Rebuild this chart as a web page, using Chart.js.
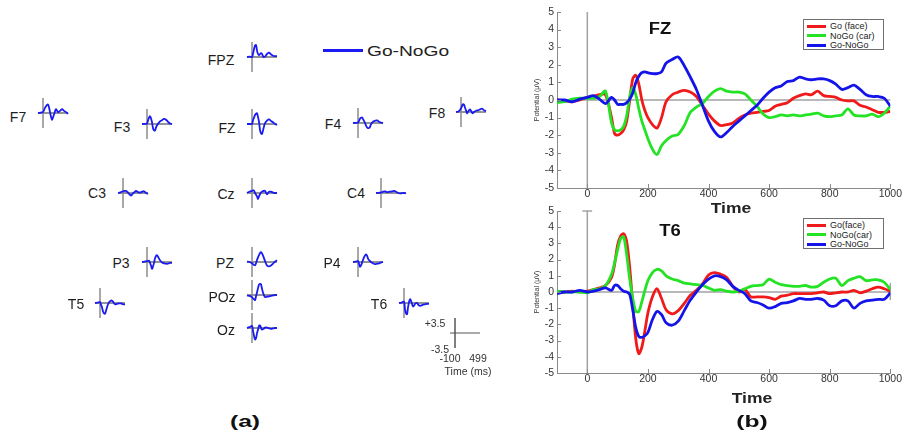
<!DOCTYPE html>
<html>
<head>
<meta charset="utf-8">
<script src="https://cdn.jsdelivr.net/npm/chart.js@4.4.1/dist/chart.umd.min.js"></script>
<style>
html,body{margin:0;padding:0;background:#fff;}
#fig{position:relative;width:907px;height:431px;overflow:hidden;font-family:"Liberation Sans",Arial,sans-serif;color:#1e1e1e;}
#fig canvas{position:absolute;}
.t{position:absolute;white-space:nowrap;line-height:1;transform:translate(-50%,-50%);}
.lg{position:absolute;box-sizing:border-box;border:1px solid #707070;background:#fff;}
.lg .sw{position:absolute;left:3px;width:19px;height:3px;margin-top:-1.5px;}
.lg .tx{position:absolute;left:26px;font-size:9px;line-height:1;transform:translateY(-50%);white-space:nowrap;color:#222;}
</style>
</head>
<body>
<div id="fig"></div>
<script>
// ---------- (a) Go-NoGo difference waves per electrode, -100..499 ms, µV ----------
const miniTimes = [-100, -50, 0, 20, 40, 60, 80, 100, 120, 140, 160, 180, 200, 230, 260, 300, 340, 380, 420, 460, 499];
const fpzWave = [0, 0.1, 0, 0.8, 1.8, 2.7, 2.8, 1.5, 0.7, 0.4, 0.7, 0.9, 0.7, 0.0, 0.1, 0.7, 1.0, 0.6, 0.3, 0.2, 0.2];
const f7Wave  = [0, 0.1, 0.2, 0.7, 1.2, 1.6, 1.9, 2.0, 1.3, 0.2, -0.9, -1.6, -1.0, 0.0, 0.9, 0.2, 0.5, 0.9, 0.5, 0.2, -0.2];
const f3Wave  = [0, 0.05, 0.1, 0.8, 1.5, 1.8, 1.3, 0.4, -1.0, -1.5, -1.5, -0.8, -0.3, 0.2, 0.6, 0.9, 1.2, 1.0, 0.5, 0.1, 0.0];
const fzWave  = [0, 0, 0, 0.9, 1.5, 2.1, 2.4, 2.5, 1.6, 0.5, -1.4, -2.2, -2.3, -1.0, 0.2, 0.8, 1.1, 0.7, 0.4, 0.0, -0.2];
const f4Wave  = [0, 0.05, 0.1, 0.5, 1.0, 1.2, 1.3, 0.9, 0.5, 0.0, -0.6, -1.0, -1.2, -1.1, -0.3, 0.3, 0.5, 0.6, 0.3, 0.1, 0.0];
const f8Wave  = [0, 0.1, 0.8, 1.4, 1.8, 1.7, 1.0, 0.4, -0.3, 0.1, 0.4, 0.6, 0.3, -0.3, 0.0, 0.3, 0.4, 0.6, 0.8, 0.4, 0.2];
const c3Wave  = [0, 0.15, 0.4, 0.45, 0.5, 0.5, 0.3, 0.1, -0.2, -0.4, -0.6, -0.4, -0.1, 0.2, 0.5, 0.2, 0.1, 0.3, 0.4, 0.0, -0.2];
const czWave  = [0, 0.3, 0.5, 0.6, 0.6, 0.0, -0.4, -0.8, -1.4, -0.8, -0.3, 0.1, 0.3, 0.5, 0.5, -0.3, 0.3, 0.3, 0.1, 0.0, 0.0];
const c4Wave  = [0, 0.05, 0.1, 0.2, 0.3, 0.35, 0.4, 0.3, 0.2, 0.2, 0.3, 0.3, 0.3, 0.4, 0.5, 0.3, 0.0, -0.1, -0.05, 0.0, -0.1];
const p3Wave  = [0, 0.1, 0.2, 0.25, 0.3, -0.2, -0.8, -1.6, -1.0, -0.2, 0.9, 1.4, 1.6, 1.0, 0.4, -0.1, -0.3, -0.4, -0.4, -0.2, -0.2];
const pzWave  = [0.1, 0.0, -0.3, -0.5, -0.7, -0.8, -0.3, 0.5, 1.1, 1.6, 2.1, 2.3, 2.0, 1.2, 0.2, -0.8, -1.0, -0.8, -0.4, 0.1, 0.4];
const pozWave = [-0.1, -0.2, -0.5, -0.8, -1.0, -1.2, -0.3, 0.6, 1.6, 2.4, 2.6, 2.5, 1.4, 0.2, -0.5, -0.4, -0.3, -0.2, -0.1, 0.0, 0.0];
const ozWave  = [0, 0.2, 0.5, -0.6, -1.8, -2.7, -2.4, -1.2, -0.4, 0.5, 0.6, 0.0, -0.4, -0.2, 0.1, 0.1, -0.1, -0.2, -0.1, 0.0, 0.0];
const p4Wave  = [0, 0.1, 0.2, -0.4, -1.1, -0.8, -0.2, 0.5, 1.1, 1.5, 1.8, 1.5, 0.8, 0.3, 0.0, -0.3, -0.5, -0.4, -0.3, -0.1, 0.0];
const t5Wave  = [0, 0.1, 0.2, -0.4, -1.0, -2.0, -2.4, -2.5, -1.8, -1.0, -0.3, 0.2, 0.4, 0.6, 0.3, -0.3, -0.2, -0.1, -0.1, -0.3, -0.3];
const t6Wave  = [0, 0.1, 0.3, -1.5, -2.4, -2.6, -1.0, 0.2, 0.9, 0.5, -0.2, -0.8, -0.6, -0.1, 0.0, -0.6, -0.6, -0.4, -0.3, -0.2, -0.2];

const electrodeNames = ['FPZ', 'F7', 'F3', 'FZ', 'F4', 'F8', 'C3', 'Cz', 'C4', 'P3', 'PZ', 'POz', 'Oz', 'P4', 'T5', 'T6'];
const electrodeWaves = [fpzWave, f7Wave, f3Wave, fzWave, f4Wave, f8Wave, c3Wave, czWave, c4Wave, p3Wave, pzWave, pozWave, ozWave, p4Wave, t5Wave, t6Wave];

// ---------- (b) grand-average ERPs at FZ and T6, -100..1000 ms, µV ----------
const erpTimes = [-100, -75, -50, -25,
  0, 20, 40, 60, 80,
  90, 100, 110, 120, 130, 140, 150, 160, 170, 180, 190, 200,
  215, 230, 245, 260,
  280, 300, 320, 340, 360, 380, 400, 420, 440, 460, 480, 500, 520, 540, 560, 580, 600, 620, 640, 660,
  680, 700, 720, 740, 760, 780, 800, 820, 840, 860, 880, 900, 920, 940, 960, 980, 1000];

const fzGo = [0.0, -0.05, -0.1, 0.0,
  0.15, 0.2, 0.3, 0.3, -1.0,
  -1.9, -2.0, -1.9, -1.7, -1.2, 0.0, 1.2, 1.4, 0.9, 0.0, -0.6, -1.0,
  -1.4, -1.6, -1.0, -0.1,
  0.3, 0.45, 0.55, 0.45, 0.2, -0.3, -0.8, -1.2, -1.45, -1.4, -1.3, -1.05, -0.85, -0.75, -0.7, -0.65, -0.6, -0.35, -0.25, -0.15,
  0.1, 0.25, 0.35, 0.3, 0.5, 0.25, 0.2, 0.15, 0.0, -0.05, -0.05, -0.3, -0.4, -0.55, -0.7, -0.7, -0.65];
const fzNoGo = [-0.15, -0.1, 0.05, 0.1,
  0.1, 0.1, 0.2, 0.5, -1.3,
  -1.7, -1.75, -1.7, -1.5, -0.9, 0.2, 0.7, 0.3, -0.5, -1.2, -1.7, -2.2,
  -2.8, -3.1, -2.6, -2.3,
  -2.05, -1.95, -1.45, -0.7, -0.4, -0.2, 0.2, 0.5, 0.65, 0.5, 0.45, 0.45, 0.35, 0.0, -0.35, -0.8, -1.0, -0.95, -0.85, -0.9,
  -0.85, -0.9, -0.85, -0.8, -0.75, -0.9, -0.95, -0.9, -0.85, -0.5, -0.85, -0.9, -0.9, -0.8, -0.95, -0.75, -0.35];
const fzDiff = [0.0, 0.0, -0.1, 0.05,
  0.15, 0.25, 0.05, -0.2, 0.15,
  0.0, -0.25, -0.25, -0.25, -0.15, 0.05, 0.4, 1.0, 1.35, 1.55, 1.6, 1.55,
  1.5, 1.5, 1.6, 2.1,
  2.3, 2.45, 1.95, 1.3, 0.6, -0.3, -1.2, -1.8, -2.1, -1.85, -1.5, -1.2, -0.9, -0.6, -0.3, 0.1, 0.45, 0.7, 0.8, 1.05,
  1.1, 1.3, 1.2, 1.15, 1.2, 1.2, 1.1, 0.9, 0.6, 0.7, 0.85, 0.6, 0.3, 0.2, 0.2, 0.1, -0.35];

const t6Go = [0.0, 0.0, 0.05, 0.0,
  0.05, 0.15, 0.25, 0.4, 0.9,
  1.7, 2.9, 3.45, 3.6, 3.1, 1.5, -0.8, -2.9, -3.8, -3.4, -2.4, -1.3,
  -0.3, 0.2, -0.4, -1.1,
  -1.35, -1.15, -0.7, -0.2, 0.1, 0.5, 1.05, 1.2, 1.1, 0.9, 0.35, 0.0, 0.15, -0.3, -0.3, -0.3, -0.35, -0.45, -0.25, -0.2,
  -0.1, -0.1, -0.1, -0.1, -0.05, 0.0, -0.1, -0.05, 0.0, 0.0, 0.1, -0.05, 0.05, 0.2, 0.3, 0.2, 0.05];
const t6NoGo = [0.05, 0.0, 0.0, 0.0,
  -0.05, 0.15, 0.2, 0.4, 1.1,
  1.8, 2.6, 3.3, 3.4, 2.3, 0.8, -0.4, -1.2, -1.2, -0.6, 0.1, 0.7,
  1.2, 1.4, 1.3, 1.0,
  0.8, 0.7, 0.55, 0.5, 0.45, 0.4, 0.25, 0.1, 0.15, 0.05, 0.0, 0.05, 0.2, 0.35, 0.4, 0.45, 0.8, 0.6, 0.45, 0.4,
  0.35, 0.35, 0.4, 0.3, 0.35, 0.6, 0.8, 0.85, 0.4, 0.7, 0.85, 0.95, 0.7, 0.75, 0.75, 0.6, 0.15];
const t6Diff = [-0.1, 0.0, 0.0, 0.1,
  0.0, 0.05, 0.15, 0.25, 0.1,
  0.4, 0.4, 0.2, 0.05, 0.0, -0.15, -1.1, -2.2, -2.75, -2.8, -2.7, -2.5,
  -1.7, -1.2, -1.4, -1.9,
  -2.05, -1.8, -1.15, -0.5, 0.0, 0.45, 0.8, 1.0, 0.95, 0.75, 0.35, 0.1, -0.1, -0.55, -0.65, -0.8, -1.0, -0.9, -0.7, -0.65,
  -0.55, -0.4, -0.45, -0.45, -0.4, -0.5, -0.85, -0.85, -0.55, -0.55, -1.0, -0.7, -0.55, -0.5, -0.45, -0.45, -0.05];

const fzNames = ['Go (face)', 'NoGo (car)', 'Go-NoGo'];
const t6Names = ['Go(face)', 'NoGo(car)', 'Go-NoGo'];
const xTickValues = [0, 200, 400, 600, 800, 1000];

// ---------- layout and styling ----------
const RED = '#f01a1a', GREEN = '#24e324', BLUE = '#1414ea', MINI_BLUE = '#1a1af2';
const REF_GRAY = '#a2a2a2';
const FONT = '"Liberation Sans", Arial, sans-serif';
Chart.defaults.font.family = FONT;

// axis position (0 ms line x, 0 µV line y) and label centre for each electrode
const miniLayout = {
  FPZ: [252, 57, 221, 60],  F7: [43, 113, 18, 117],  F3: [147, 124, 122, 127],
  FZ:  [252, 124, 227, 128], F4: [358, 123, 333, 124], F8: [461, 112, 437, 113],
  C3:  [123, 193, 97, 193], Cz: [252, 193, 226, 194], C4: [381, 193, 356, 193],
  P3:  [147, 262, 121, 263], PZ: [252, 262, 225, 263], POz: [252, 295, 222, 297],
  Oz:  [252, 328, 226, 330], P4: [358, 262, 332, 263], T5: [100, 303, 76, 304],
  T6:  [404, 303, 379, 304]
};

const fig = document.getElementById('fig');

function text(str, cx, cy, size, opts = {}) {
  const d = document.createElement('div');
  d.className = 't';
  d.textContent = str;
  d.style.left = cx + 'px';
  d.style.top = cy + 'px';
  d.style.fontSize = size + 'px';
  if (opts.bold) d.style.fontWeight = 'bold';
  if (opts.color) d.style.color = opts.color;
  if (opts.sx) d.style.transform = 'translate(-50%,-50%) scaleX(' + opts.sx + ')';
  fig.appendChild(d);
  return d;
}

// straight reference lines given in data units, drawn beneath the traces
const refLines = {
  id: 'refLines',
  beforeDatasetsDraw(chart, args, opts) {
    const { ctx, scales: { x, y } } = chart;
    ctx.save();
    ctx.lineCap = 'butt';
    for (const l of (opts.lines || [])) {
      ctx.strokeStyle = l.color;
      ctx.lineWidth = l.width;
      ctx.beginPath();
      ctx.moveTo(x.getPixelForValue(l.x1), y.getPixelForValue(l.y1));
      ctx.lineTo(x.getPixelForValue(l.x2), y.getPixelForValue(l.y2));
      ctx.stroke();
    }
    ctx.restore();
  }
};

// short tick marks pointing into the plot area
const innerTicks = {
  id: 'innerTicks',
  afterDraw(chart, args, opts) {
    if (!opts.length) return;
    const { ctx, chartArea: a, scales: { x, y } } = chart;
    ctx.save();
    ctx.strokeStyle = opts.color;
    ctx.lineWidth = 1;
    ctx.beginPath();
    for (const t of y.ticks) {
      const py = Math.round(y.getPixelForValue(t.value)) + 0.5;
      ctx.moveTo(a.left, py); ctx.lineTo(a.left + opts.length, py);
    }
    for (const t of x.ticks) {
      const px = Math.round(x.getPixelForValue(t.value)) + 0.5;
      ctx.moveTo(px, a.bottom); ctx.lineTo(px, a.bottom - opts.length);
    }
    ctx.stroke();
    ctx.restore();
  }
};

function makeCanvas(left, top, w, h) {
  const c = document.createElement('canvas');
  c.width = w; c.height = h;
  c.style.left = left + 'px'; c.style.top = top + 'px';
  c.style.width = w + 'px'; c.style.height = h + 'px';
  fig.appendChild(c);
  return c;
}

// one small topographic trace: 30 px wide (-100..499 ms) and 30 px tall (±3.5 µV)
function miniChart(ax, zero, values, axisColor, vColor) {
  const c = makeCanvas(ax - 9, zero - 19, 38, 38);
  const datasets = values ? [{
    data: miniTimes.map((t, i) => ({ x: t, y: values[i] })),
    borderColor: MINI_BLUE, borderWidth: 1.8, pointRadius: 0, tension: 0.35, fill: false, clip: false
  }] : [];
  new Chart(c, {
    type: 'line',
    data: { datasets },
    options: {
      responsive: false, animation: false, events: [], devicePixelRatio: 1,
      layout: { padding: 4 },
      plugins: {
        legend: { display: false }, tooltip: { enabled: false },
        refLines: { lines: [
          { x1: -100, y1: 0, x2: 499, y2: 0, color: axisColor, width: 1 },
          { x1: 0, y1: -3.5, x2: 0, y2: 3.5, color: vColor, width: 1.5 }
        ] }
      },
      scales: {
        x: { type: 'linear', min: -100, max: 499, display: false },
        y: { type: 'linear', min: -3.5, max: 3.5, display: false }
      }
    },
    plugins: [refLines]
  });
}

electrodeNames.forEach((name, i) => {
  const [ax, zero, lx, ly] = miniLayout[name];
  miniChart(ax, zero, electrodeWaves[i], '#2a2a2a', '#8c8c8c');
  text(name, lx, ly, 14);
});

// scale bar
miniChart(455, 333, null, '#555', '#555');
text('+3.5', 435, 323, 10.5, { color: '#333' });
text('-3.5', 440, 349, 10.5, { color: '#333' });
text('-100', 450, 358, 10.5, { color: '#333' });
text('499', 478, 358, 10.5, { color: '#333' });
text('Time (ms)', 468, 371, 10.5, { color: '#333' });

// legend of panel (a)
const lgLine = document.createElement('div');
lgLine.style.cssText = 'position:absolute;left:323px;top:48.5px;width:40px;height:3px;background:' + MINI_BLUE;
fig.appendChild(lgLine);
const lgText = text('Go-NoGo', 367, 50, 15, { color: '#222' });
lgText.style.transform = 'translate(0,-50%) scaleX(1.28)';
lgText.style.transformOrigin = 'left center';

// ---------- panel (b) ----------
function erpChart(top, height, names, series, extraLines) {
  const c = makeCanvas(530, top, 372, height);
  const colors = [RED, GREEN, BLUE];
  const lines = [
    { x1: -100, y1: 0, x2: 1000, y2: 0, color: REF_GRAY, width: 1.5 },
    { x1: 0, y1: -5, x2: 0, y2: 5, color: REF_GRAY, width: 1.5 }
  ].concat(extraLines || []);
  const chart = new Chart(c, {
    type: 'line',
    data: {
      datasets: series.map((vals, i) => ({
        label: names[i],
        data: erpTimes.map((t, k) => ({ x: t, y: vals[k] })),
        borderColor: colors[i], borderWidth: 2.8, pointRadius: 0,
        tension: 0.3, fill: false, order: 3 - i
      }))
    },
    options: {
      responsive: false, animation: false, events: [], devicePixelRatio: 1,
      layout: { padding: { left: 3, right: 11, top: 12, bottom: 0 } },
      plugins: {
        legend: { display: false }, tooltip: { enabled: false },
        refLines: { lines },
        innerTicks: { length: 4, color: '#8a8a8a' }
      },
      scales: {
        x: {
          type: 'linear', min: -100, max: 1000,
          afterBuildTicks: s => { s.ticks = xTickValues.map(v => ({ value: v })); },
          afterFit: s => { s.height = 12; },
          grid: { drawOnChartArea: false, drawTicks: false },
          border: { display: true, color: '#8a8a8a', width: 1 },
          ticks: { padding: 0, color: '#333', font: { size: 10.5 }, maxRotation: 0, autoSkip: false, callback: v => String(v) }
        },
        y: {
          type: 'linear', min: -5, max: 5,
          afterFit: s => { s.width = 24; },
          grid: { drawOnChartArea: false, drawTicks: false },
          border: { display: true, color: '#8a8a8a', width: 1 },
          ticks: { stepSize: 1, padding: 3, color: '#333', font: { size: 10.5 }, callback: v => String(v) },
          title: { display: true, text: 'Potential (\u03bcV)', color: '#333', font: { size: 7 }, padding: 0 }
        }
      }
    },
    plugins: [refLines, innerTicks]
  });
  return chart;
}

function erpLegend(chart, left, top) {
  const box = document.createElement('div');
  box.className = 'lg';
  box.style.left = left + 'px'; box.style.top = top + 'px';
  box.style.width = '81px'; box.style.height = '31px';
  chart.data.datasets.forEach((ds, i) => {
    const y = 6 + i * 9.5;
    const sw = document.createElement('div');
    sw.className = 'sw'; sw.style.top = y + 'px'; sw.style.background = ds.borderColor;
    const tx = document.createElement('div');
    tx.className = 'tx'; tx.style.top = y + 'px'; tx.textContent = ds.label;
    box.appendChild(sw); box.appendChild(tx);
  });
  fig.appendChild(box);
}

const fzChart = erpChart(0, 200, fzNames, [fzGo, fzNoGo, fzDiff]);
// T6 panel: cap on the stimulus-onset line and an end marker at 1000 ms
const t6Chart = erpChart(199, 186, t6Names, [t6Go, t6NoGo, t6Diff], [
  { x1: -16, y1: 5, x2: 16, y2: 5, color: REF_GRAY, width: 1.5 },
  { x1: 1000, y1: -0.5, x2: 1000, y2: 0.55, color: REF_GRAY, width: 1.5 }
]);
erpLegend(fzChart, 803, 19);
erpLegend(t6Chart, 803, 218);

text('FZ', 660, 29, 16, { bold: true, sx: 1.15, color: '#111' });
text('T6', 670, 231, 16, { bold: true, sx: 1.15, color: '#111' });
text('Time', 731, 208, 14, { bold: true, sx: 1.25, color: '#222' });
text('Time', 752, 398, 14, { bold: true, sx: 1.25, color: '#222' });

text('(a)', 245, 421, 17, { bold: true, sx: 1.45, color: '#111' });
text('(b)', 752, 421, 17, { bold: true, sx: 1.45, color: '#111' });
</script>
</body>
</html>
